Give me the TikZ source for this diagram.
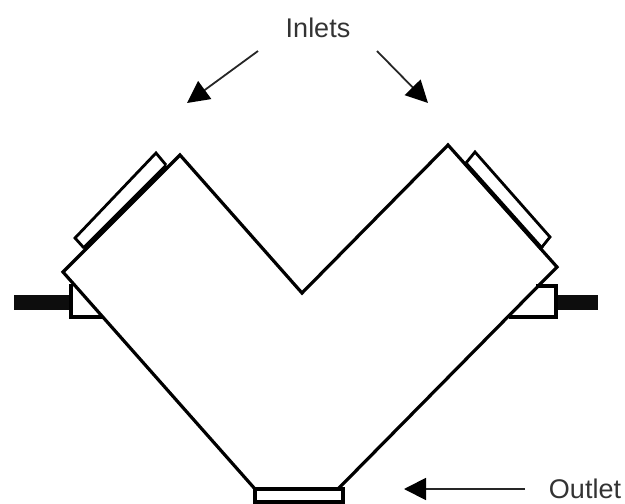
\documentclass[tikz,border=0pt]{standalone}
\usepackage{fontspec}
\setmainfont{Liberation Sans}
\usetikzlibrary{arrows.meta}
\tikzset{
  body/.style={draw=black,line width=3.2pt,line join=miter},
  thin plate/.style={draw=black,line width=2.8pt},
  thick edge/.style={draw=black,line width=5pt},
  block/.style={draw=black,line width=4.6pt},
  rod/.style={fill=black!95,draw=none},
  pointer/.style={draw=black!85,line width=1.8pt,-{Triangle[length=22pt,width=22pt,color=black]}},
  lbl/.style={font=\fontsize{27}{27}\selectfont,text=black!80,inner sep=0pt}
}
\begin{document}
\begin{tikzpicture}[x=1pt,y=-1pt]
\useasboundingbox (0,0) rectangle (625,504);
\clip (0,0) rectangle (625,504);
% side blocks and rods
\draw[rod] (14,295) rectangle (72,310);
\draw[rod] (556,295) rectangle (598,310);
\draw[block] (71,284) -- (71,317) -- (102,317);
\draw[block] (536,286) -- (556,286) -- (556,317) -- (509,317);
% outlet
\draw[block] (255,502) -- (255,489) -- (343,489) -- (343,502) -- cycle;
% inlet plates
\draw[thin plate] (84,248) -- (75,238) -- (156,153) -- (166,165);
\draw[thick edge] (84,249) -- (167,166);
\draw[thin plate] (466,163) -- (475,152) -- (550,237) -- (542,247);
\draw[thick edge,line width=4.2pt] (466,164) -- (542,249);
% body outline
\coordinate (L) at (63,272);
\coordinate (TL) at (180,155);
\coordinate (N) at (302,293);
\coordinate (TR) at (448,145);
\coordinate (R) at (557,267);
\coordinate (BR) at (338,489);
\coordinate (BL) at (255,489);
\draw[body] (BL) -- (L) -- (TL) -- (N) -- (TR) -- (R) -- (BR);
% labels and arrows
\node[lbl] (inlets) at (318,28) {Inlets};
\node[lbl] (outlet) at (585,489) {Outlet};
\coordinate (a1) at (258,51);
\coordinate (t1) at (187,103);
\coordinate (a2) at (377,51);
\coordinate (t2) at (428,103);
\coordinate (a3) at (525,489);
\coordinate (t3) at (404,489);
\draw[pointer] (a1) -- (t1);
\draw[pointer] (a2) -- (t2);
\draw[pointer] (a3) -- (t3);
\end{tikzpicture}
\end{document}
